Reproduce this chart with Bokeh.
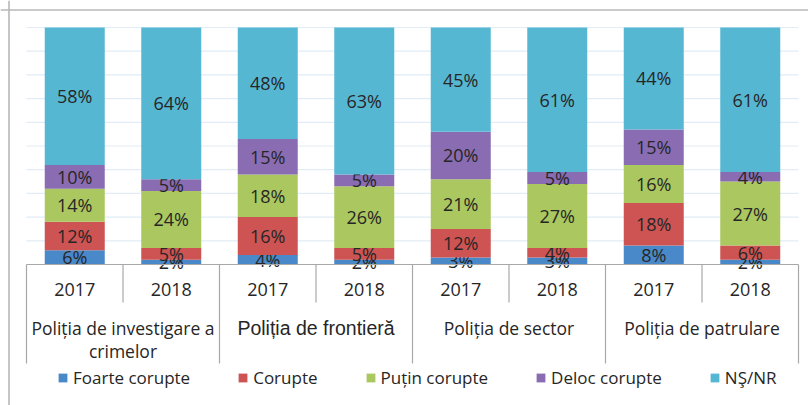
import numpy as np
from bokeh.plotting import figure
from bokeh.models import Range1d, ColumnDataSource, Span, Legend, LegendItem
from bokeh.core.properties import value
from bokeh.embed import file_html
from bokeh.resources import INLINE

# ---------------- data ----------------
groups = ["Poliția de investigare a\ncrimelor", "Poliția de frontieră",
          "Poliția de sector", "Poliția de patrulare"]
years = ["2017", "2018"]
series = ["Foarte corupte", "Corupte", "Puțin corupte", "Deloc corupte", "NŞ/NR"]
foarte_corupte = [6, 2, 4, 2, 3, 3, 8, 2]
corupte = [12, 5, 16, 5, 12, 4, 18, 6]
putin_corupte = [14, 24, 18, 26, 21, 27, 16, 27]
deloc_corupte = [10, 5, 15, 5, 20, 5, 15, 4]
ns_nr = [58, 64, 48, 63, 45, 61, 44, 61]
colors = ["#4a89c9", "#cd5453", "#abc75f", "#8a6cb2", "#56b7d3"]
y_ticks = list(range(10, 101, 10))

# ---------------- layout ----------------
W, H = 808, 405
PXX = 96.5           # px per category
PXY = 2.37           # px per percent
LEFT = 26            # plot area offset from canvas left
TOP = 27             # plot area offset from canvas top
n = len(foarte_corupte)
x0 = -LEFT / PXX
x1 = (W - LEFT) / PXX
y1 = 100 + TOP / PXY
y0 = y1 - H / PXY

p = figure(width=W, height=H, output_backend="svg", toolbar_location=None,
           x_range=Range1d(x0, x1), y_range=Range1d(y0, y1),
           x_axis_location=None, y_axis_location=None,
           min_border=0, min_border_left=0, min_border_right=0,
           min_border_top=0, min_border_bottom=0)
p.xgrid.visible = False
p.ygrid.visible = False
p.outline_line_color = None
p.background_fill_color = "white"
p.border_fill_color = "white"

# gridlines
p.segment(x0=[0] * len(y_ticks), x1=[n] * len(y_ticks), y0=y_ticks, y1=y_ticks,
          line_color="#e2ecf6", line_width=1.2)

# stacked bars
vals = np.array([foarte_corupte, corupte, putin_corupte, deloc_corupte, ns_nr], dtype=float)
tops = np.minimum(np.cumsum(vals, axis=0), 100)
bottoms = np.vstack([np.zeros(n), tops[:-1]])
xs = np.arange(n) + 0.5
bar_w = 60 / PXX
items = []
for i, name in enumerate(series):
    src = ColumnDataSource(dict(x=xs, bottom=bottoms[i], top=tops[i],
                                mid=(bottoms[i] + tops[i]) / 2,
                                lab=[f"{int(v)}%" for v in vals[i]]))
    r = p.vbar(x="x", width=bar_w, bottom="bottom", top="top", source=src,
               fill_color=colors[i], line_color=None)
    items.append(LegendItem(label=name, renderers=[r]))
    p.text(x="x", y="mid", text="lab", source=src, text_align="center",
           text_baseline="middle", text_font=value("Open Sans"),
           text_font_size="18px", text_color="#262626")

# category axis
axis_col = "#a8a8a8"
p.segment(x0=[0], x1=[n], y0=[0], y1=[0], line_color=axis_col, line_width=1.2)
yr_sep = np.arange(1, n, 2)
p.segment(x0=yr_sep, x1=yr_sep, y0=[0] * len(yr_sep), y1=[-38 / PXY] * len(yr_sep),
          line_color=axis_col, line_width=1.2)
gr_sep = np.arange(0, n + 1, 2)
p.segment(x0=gr_sep, x1=gr_sep, y0=[0] * len(gr_sep), y1=[-99 / PXY] * len(gr_sep),
          line_color=axis_col, line_width=1.2)
p.text(x=xs, y=[-25 / PXY] * n, text=[years[i % 2] for i in range(n)],
       text_align="center", text_baseline="middle", text_font=value("Open Sans"),
       text_font_size="18px", text_color="#262626")

for g, name in enumerate(groups):
    lines = name.split("\n")
    font = "Liberation Sans" if g == 1 else "Open Sans"
    size = "19.5px" if g == 1 else "17.5px"
    for k, line in enumerate(lines):
        p.text(x=[2 * g + 1], y=[-(63 + 23 * k) / PXY], text=[line],
               text_align="center", text_baseline="middle", text_font=value(font),
               text_font_size=size, text_color="#262626")

# legend
legend = Legend(items=items, orientation="horizontal", location=(57, 16),
                glyph_width=11, glyph_height=11, label_standoff=5, spacing=47,
                padding=0, margin=0, border_line_color=None,
                background_fill_alpha=0, label_text_font="Open Sans",
                label_text_font_size="17px", label_text_color="#262626")
p.add_layout(legend)

# outer border (top & left)
p.add_layout(Span(location=y1 - 9.5 / PXY, dimension="width",
                  line_color="#b8b8b8", line_width=1.6))
p.add_layout(Span(location=x0 + 8.5 / PXX, dimension="height",
                  line_color="#b8b8b8", line_width=1.6))

open("out.html", "w").write(file_html(p, INLINE))
